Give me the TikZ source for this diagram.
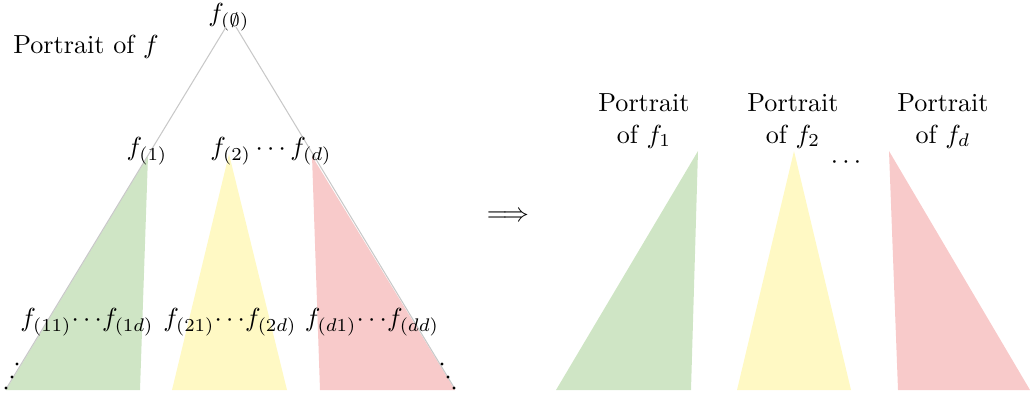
\documentclass[tikz,border=0pt]{standalone}
\begin{document}
\begin{tikzpicture}[x=0.383pt,y=-0.383pt,
  lbl/.style={inner sep=0pt},
  edge/.style={draw={rgb,255:red,200;green,200;blue,200},line width=0.4pt},
  gfill/.style={fill={rgb,255:red,207;green,229;blue,197}},
  yfill/.style={fill={rgb,255:red,255;green,249;blue,196}},
  rfill/.style={fill={rgb,255:red,248;green,202;blue,202}},
  dotmark/.style={fill=black,circle,inner sep=0pt,minimum size=1.2pt}]
\useasboundingbox (0,0) rectangle (1030,394);
% left tree triangles
\fill[gfill] (148,156) -- (6,390) -- (140,390) -- cycle;
\fill[yfill] (229,154) -- (172,390) -- (287,390) -- cycle;
\fill[rfill] (312,156) -- (320,390) -- (455,390) -- cycle;
% right side triangles
\fill[gfill] (698,151) -- (556,390) -- (691,390) -- cycle;
\fill[yfill] (794,151) -- (737,390) -- (851,390) -- cycle;
\fill[rfill] (889,151) -- (898,390) -- (1030,390) -- cycle;
% root and lines
\node[lbl] (root) at (229,17) {$f_{(\emptyset)}$};
\coordinate (al) at (226,27);
\coordinate (ar) at (236,27);
\coordinate (bl) at (6,389);
\coordinate (br) at (455,389);
\draw[edge] (al) -- (bl);
\draw[edge] (ar) -- (br);
\node[dotmark] (dl1) at (17,364) {};
\node[dotmark] (dl2) at (12,377) {};
\node[dotmark] (dl3) at (6,388) {};
\node[dotmark] (dr1) at (442,364) {};
\node[dotmark] (dr2) at (448,377) {};
\node[dotmark] (dr3) at (454,388) {};
% labels
\node[lbl] (title) at (86,47) {Portrait of $f$};
\node[lbl] (f1) at (147,151) {$f_{(1)}$};
\node[lbl] (f2d) at (271,151) {$f_{(2)}\cdots f_{(d)}$};
\node[lbl] (g1) at (87,322) {$f_{(11)}\!\cdots\! f_{(1d)}$};
\node[lbl] (g2) at (230,322) {$f_{(21)}\!\cdots\! f_{(2d)}$};
\node[lbl] (g3) at (372,322) {$f_{(d1)}\!\cdots\! f_{(dd)}$};
\node[lbl] (arrow) at (508,217) {$\Longrightarrow$};
\node[lbl,align=center] (p1) at (644,121) {Portrait\\of $f_1$};
\node[lbl,align=center] (p2) at (793,121) {Portrait\\of $f_2$};
\node[lbl,align=center] (pd) at (943,121) {Portrait\\of $f_d$};
\node[lbl] (rdots) at (846,163) {$\cdots$};
\end{tikzpicture}
\end{document}
